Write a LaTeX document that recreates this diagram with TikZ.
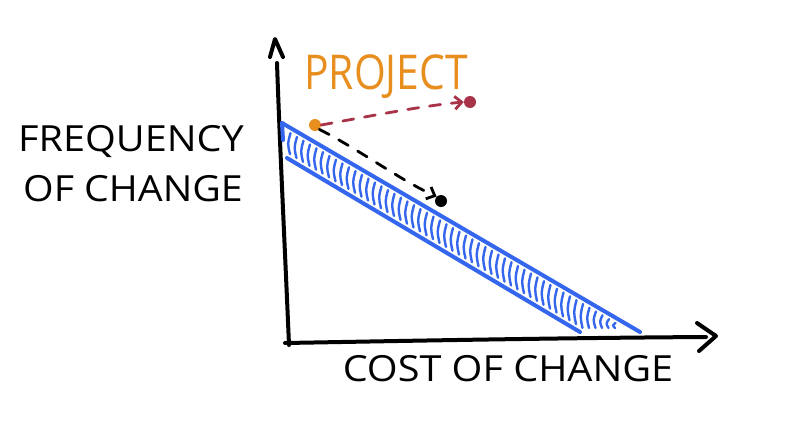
\documentclass[tikz,border=0pt]{standalone}
\usepackage{fontspec}
\setmainfont{Open Sans}
\usetikzlibrary{arrows.meta}
\definecolor{inkblue}{RGB}{52,102,238}
\definecolor{inkorange}{RGB}{232,142,30}
\definecolor{inkred}{RGB}{168,50,72}
\tikzset{
  axisline/.style={line width=4pt, line cap=round, line join=round, black},
  bandline/.style={line width=4pt, line cap=round, inkblue},
  hatchline/.style={line width=2.4pt, line cap=round, inkblue},
  dasharrow/.style={line width=2.8pt, line cap=round, dash pattern=on 11pt off 11pt},
  dot/.style={circle, inner sep=0pt, minimum size=12pt},
  label/.style={font=\fontsize{36}{36}\selectfont, inner sep=0pt}
}
\begin{document}
\begin{tikzpicture}[x=1pt,y=-1pt]
\useasboundingbox[fill=white] (0,0) rectangle (800,426);
% axes
\coordinate (O) at (289,345);
\coordinate (ytop) at (277,63);
\coordinate (xend) at (706,337);
\coordinate (xstart) at (285,343);
\draw[axisline] (O) .. controls (285,250) and (280,150) .. (ytop);
\draw[axisline] (270,57) -- (275,39) -- (283,57);
\draw[axisline] (xstart) .. controls (400,341) and (550,338) .. (xend);
\draw[axisline] (697,323) -- (716,336) -- (699,351);
% band
\coordinate (t1) at (282,123);
\coordinate (t2) at (640,332);
\coordinate (b1) at (287,158);
\coordinate (b2) at (580,332);
\draw[bandline] (t1) -- (t2);
\draw[bandline] (b1) -- (b2);
\draw[bandline] (t1) -- (283,140);
\foreach \x in {289,295.5,...,628}{
  \pgfmathsetmacro{\yt}{123+(\x-282)*0.584+6}
  \pgfmathsetmacro{\yb}{min(158+(\x-287)*0.594-5,328)}
  \pgfmathparse{\yb-\yt>4 ? 1 : 0}
  \ifnum\pgfmathresult=1
    \draw[hatchline] (\x+1.5,\yt) .. controls (\x-1.5,{(\yt+\yb)/2}) .. (\x+1,\yb);
  \fi
}
% points
\node[dot, fill=inkorange] (p) at (315,125) {};
\node[dot, fill=inkred] (r) at (470,102) {};
\node[dot, fill=black] (k) at (441,201) {};
\draw[dasharrow, inkred, -{Straight Barb[length=7pt,width=13pt,line width=2.8pt]}]
  (p.east) .. controls (360,118) and (420,106) .. (r.west);
\draw[dasharrow, black, -{Straight Barb[length=7pt,width=13pt,line width=2.8pt]}]
  (p.south east) .. controls (360,150) and (400,180) .. (k.north west);
% texts
\node[label, text=inkorange, font=\fontsize{48}{48}\selectfont, xscale=0.85] (proj) at (386,77) {PROJECT};
\node[label, xscale=1.1] (freq) at (131,142) {FREQUENCY};
\node[label, xscale=1.09] (ofc) at (133,189) {OF CHANGE};
\node[label, xscale=1.1] (cost) at (508,369) {COST OF CHANGE};
\end{tikzpicture}
\end{document}
